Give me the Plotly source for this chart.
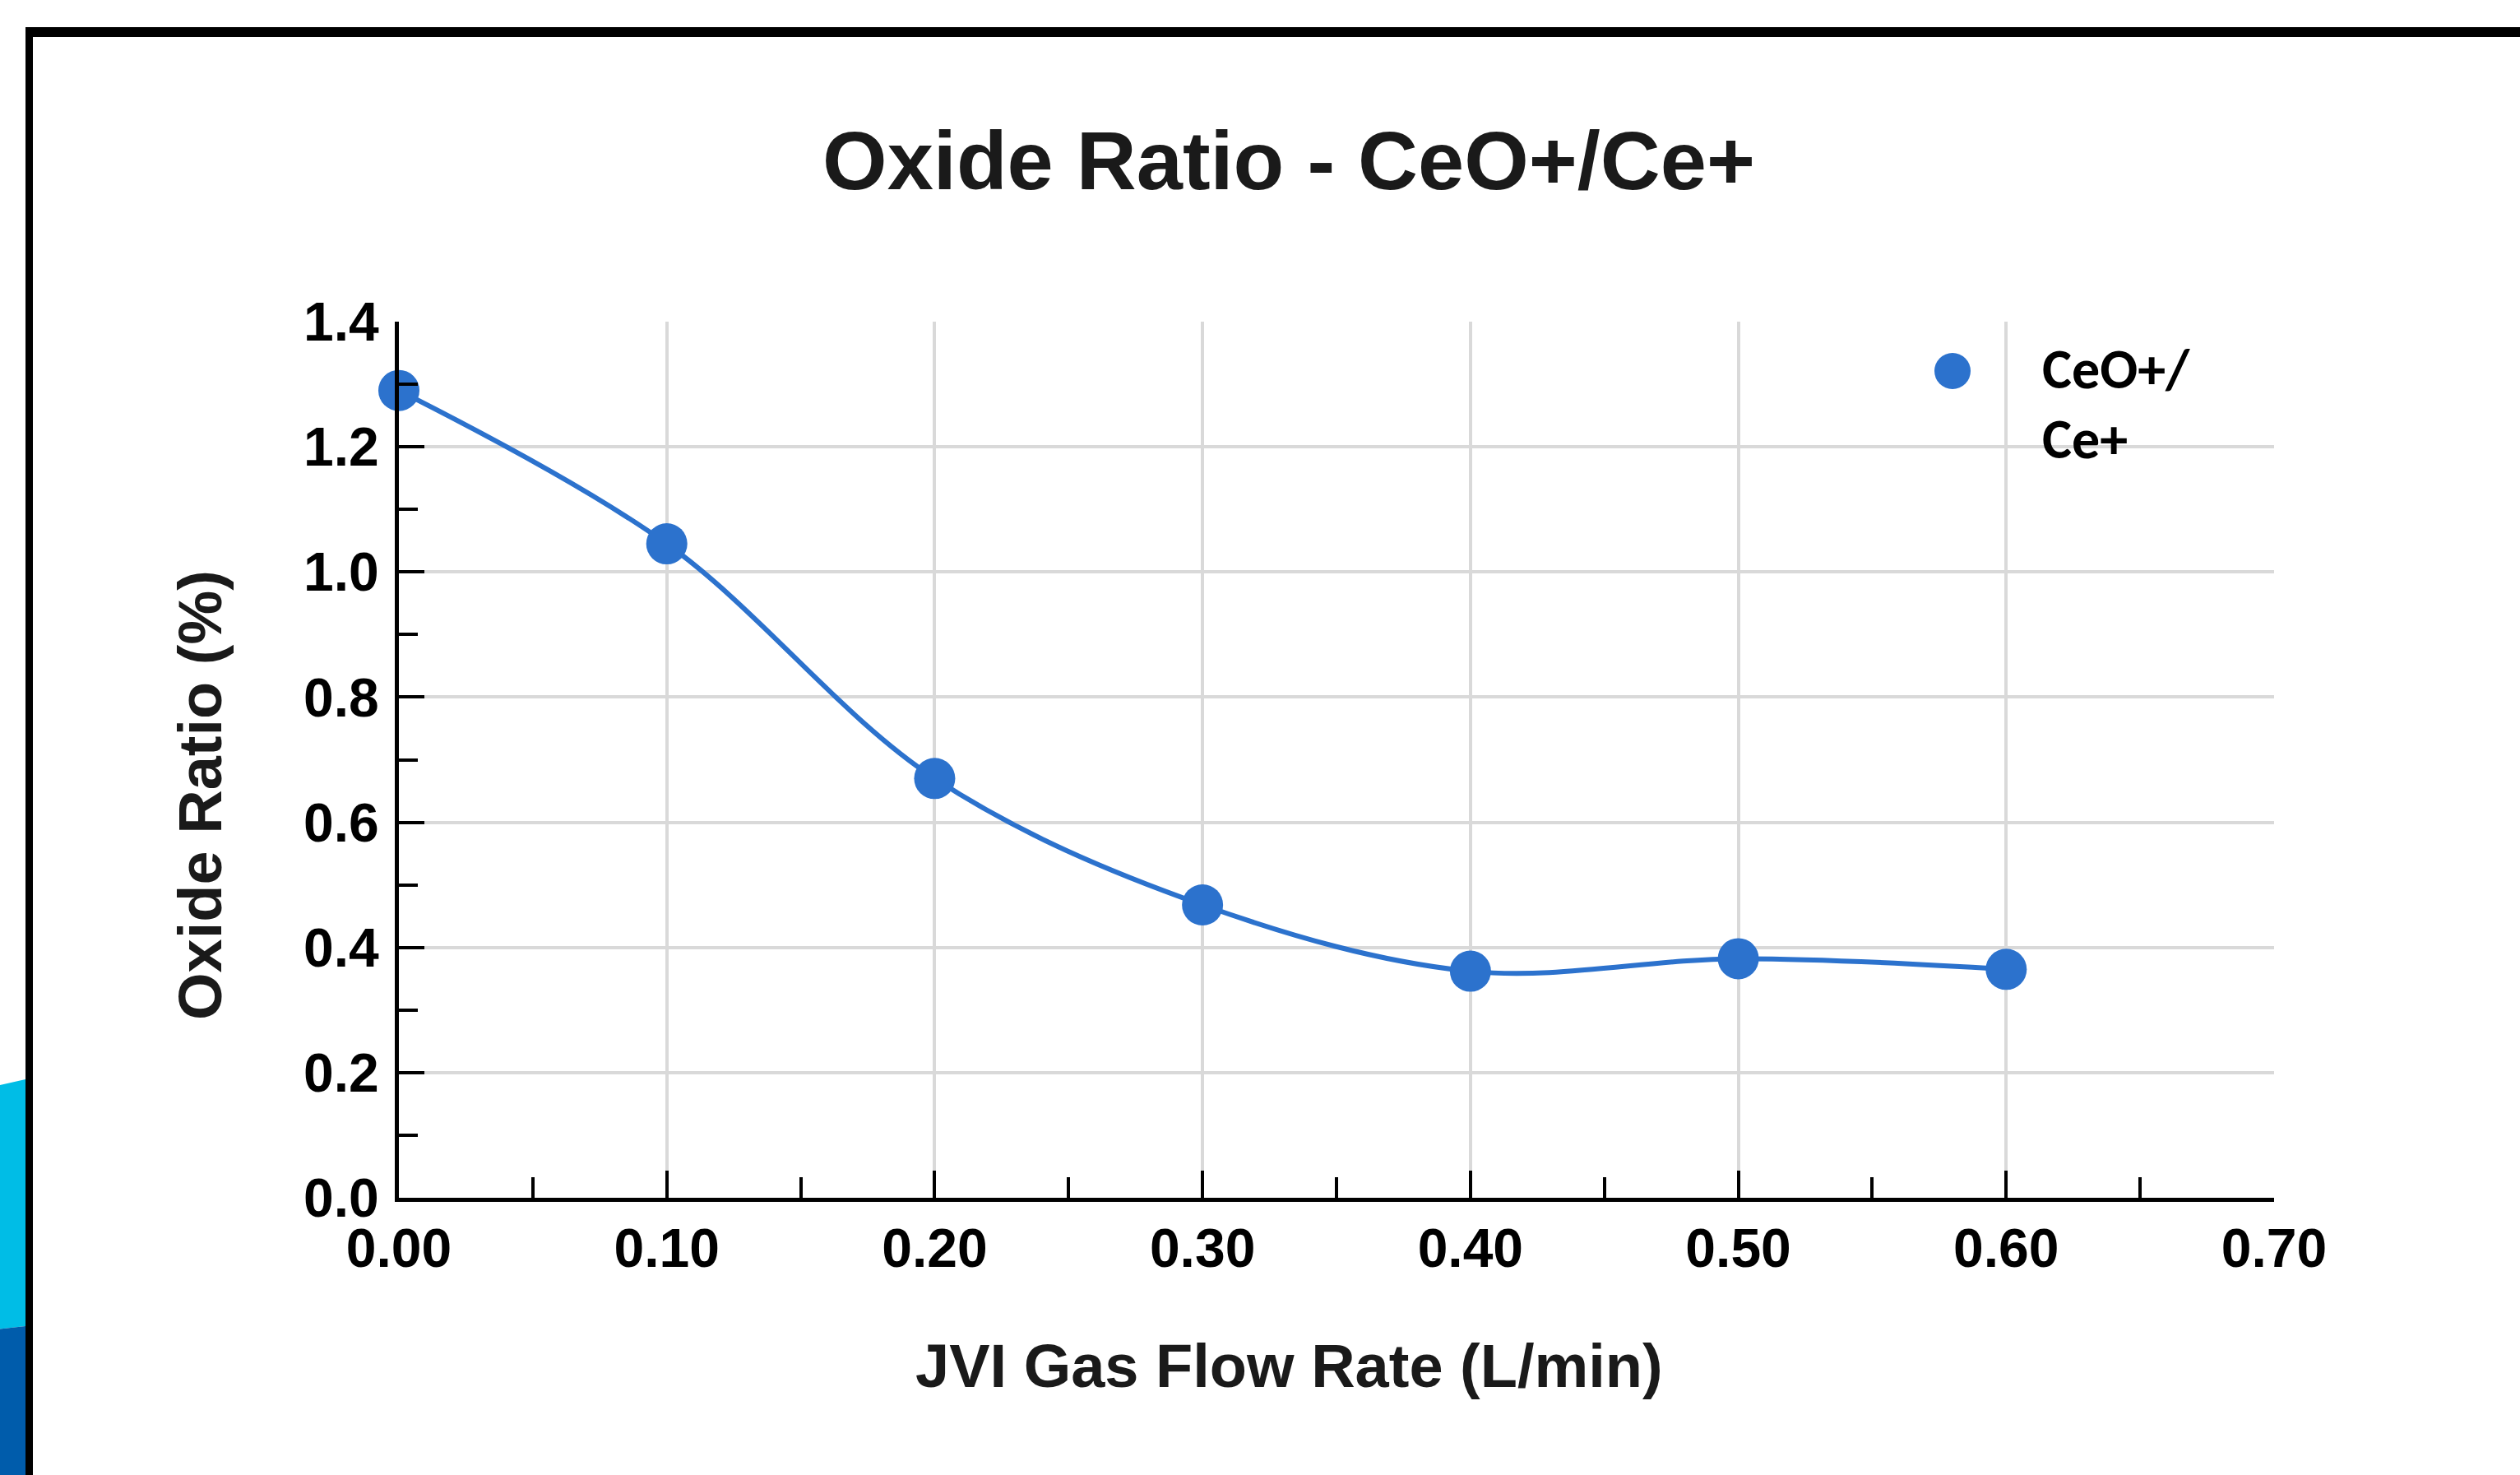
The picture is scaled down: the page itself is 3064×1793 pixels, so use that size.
import plotly.graph_objects as go

# ---- data ----
flow_rate = [0.00, 0.10, 0.20, 0.30, 0.40, 0.50, 0.60]
oxide_ratio = [1.29, 1.045, 0.67, 0.468, 0.362, 0.382, 0.365]
legend_lines = ["CeO+/", "Ce+"]
x_ticks = [0.0, 0.1, 0.2, 0.3, 0.4, 0.5, 0.6, 0.7]
x_ticktext = ["0.00", "0.10", "0.20", "0.30", "0.40", "0.50", "0.60", "0.70"]
y_ticks = [0.0, 0.2, 0.4, 0.6, 0.8, 1.0, 1.2, 1.4]
y_ticktext = ["0.0", "0.2", "0.4", "0.6", "0.8", "1.0", "1.2", "1.4"]
x_title = "JVI Gas Flow Rate (L/min)"
y_title = "Oxide Ratio (%)"
chart_title = "Oxide Ratio - CeO+/Ce+"

W, H = 3064, 1793
L, R, T, B = 485, 2765, 391, 1456  # plot-area pixel box

def px(x):
    return (x - L) / (R - L)

def py(y):
    return (B - y) / (B - T)

BLUE = "#2C72CD"
FONT = "Liberation Sans, Arial, sans-serif"
TITLE_COLOR = "#1a1a1a"

fig = go.Figure()
fig.add_trace(go.Scatter(
    x=flow_rate, y=oxide_ratio, mode="lines+markers",
    line=dict(color=BLUE, width=6, shape="spline", smoothing=1.0),
    marker=dict(color=BLUE, size=50, line=dict(width=0)),
    name="CeO+/Ce+", showlegend=False, cliponaxis=False,
))

shapes = []
# decorative blue band at left
shapes.append(dict(type="path", xref="paper", yref="paper",
                   path=f"M {px(-5)},{py(1320)} L {px(31)},{py(1312)} L {px(31)},{py(1612)} L {px(-5)},{py(1616)} Z",
                   fillcolor="#00BDE6", line=dict(width=0), layer="above"))
shapes.append(dict(type="path", xref="paper", yref="paper",
                   path=f"M {px(-5)},{py(1616)} L {px(31)},{py(1612)} L {px(31)},{py(1800)} L {px(-5)},{py(1800)} Z",
                   fillcolor="#005CAB", line=dict(width=0), layer="above"))
# black frame
shapes.append(dict(type="rect", xref="paper", yref="paper",
                   x0=px(31), x1=px(40), y0=py(33), y1=py(1800),
                   fillcolor="black", line=dict(width=0), layer="above"))
shapes.append(dict(type="rect", xref="paper", yref="paper",
                   x0=px(31), x1=px(3080), y0=py(33), y1=py(45),
                   fillcolor="black", line=dict(width=0), layer="above"))
# legend marker
shapes.append(dict(type="circle", xref="paper", yref="paper",
                   xsizemode="pixel", ysizemode="pixel",
                   xanchor=px(2374), yanchor=py(451),
                   x0=-22, x1=22, y0=-22, y1=22,
                   fillcolor=BLUE, line=dict(width=0), layer="above"))

legend_font = dict(family="Carlito, Lato, sans-serif", size=68, color="black", weight="bold")
axis_title_font = dict(family=FONT, size=74, color=TITLE_COLOR, weight="bold")
annotations = [
    dict(text=legend_lines[0], xref="paper", yref="paper", x=px(2481), y=py(449),
         xanchor="left", yanchor="middle", showarrow=False, font=legend_font),
    dict(text=legend_lines[1], xref="paper", yref="paper", x=px(2481), y=py(533),
         xanchor="left", yanchor="middle", showarrow=False, font=legend_font),
    # axis titles (centred like the reference, on the figure title's centre line)
    dict(text=x_title, xref="paper", yref="paper", x=px(1567), y=py(1661),
         xanchor="center", yanchor="middle", showarrow=False, font=axis_title_font),
    dict(text=y_title, xref="paper", yref="paper", x=px(244), y=py(967),
         xanchor="center", yanchor="middle", textangle=-90, showarrow=False, font=axis_title_font),
]

fig.update_layout(
    width=W, height=H,
    margin=dict(l=L, r=W - R, t=T, b=H - B, autoexpand=False),
    paper_bgcolor="white", plot_bgcolor="white",
    showlegend=False,
    title=dict(text=chart_title, xref="container", yref="container",
               x=1567 / W, y=1 - 195 / H, xanchor="center", yanchor="middle",
               font=dict(family=FONT, size=101, color=TITLE_COLOR, weight="bold")),
    shapes=shapes,
    annotations=annotations,
    xaxis=dict(
        range=[0, 0.7], tickvals=x_ticks, ticktext=x_ticktext,
        showline=True, linecolor="black", linewidth=5,
        showgrid=True, gridcolor="#D9D9D9", gridwidth=4,
        ticks="inside", ticklen=33, tickwidth=4, tickcolor="black",
        minor=dict(ticks="inside", ticklen=25, tickwidth=4, tickcolor="black", dtick=0.05, showgrid=False),
        tickfont=dict(family=FONT, size=66, color="black", weight="bold"),
        ticklabelstandoff=0,
        zeroline=False,
    ),
    yaxis=dict(
        range=[0, 1.4], tickvals=y_ticks, ticktext=y_ticktext,
        showline=True, linecolor="black", linewidth=5,
        showgrid=True, gridcolor="#D9D9D9", gridwidth=4,
        ticks="inside", ticklen=31, tickwidth=4, tickcolor="black",
        minor=dict(ticks="inside", ticklen=23, tickwidth=4, tickcolor="black", dtick=0.1, showgrid=False),
        tickfont=dict(family=FONT, size=66, color="black", weight="bold"),
        ticklabelstandoff=6,
        zeroline=False,
    ),
)

fig.write_html("out.html", config={"displayModeBar": False},
               post_script="document.body.style.margin='0';document.body.style.overflow='hidden';")
